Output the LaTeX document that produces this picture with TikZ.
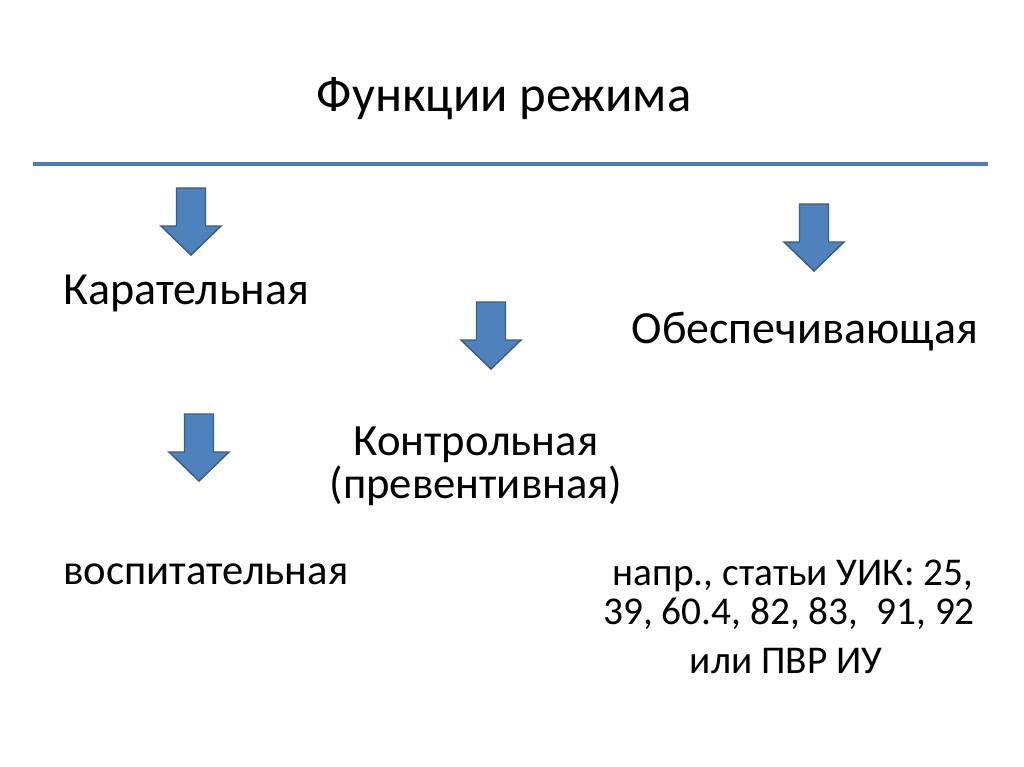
\documentclass[tikz,border=0pt]{standalone}
\usepackage{fontspec}
\setmainfont{Carlito}

\definecolor{arrowfill}{HTML}{4F81BD}
\definecolor{arrowline}{HTML}{385D8A}
\definecolor{rulecol}{HTML}{4A7EBB}

\tikzset{
    txt/.style={inner sep=0pt, font=\fontsize{#1}{#1}\selectfont},
    txt/.default=34.5,
    rule/.style={draw=rulecol, line width=2.4pt},
    pics/downarrow/.style={code={
        \draw[fill=arrowfill, draw=arrowline, line width=1.1pt, line join=miter]
            (-14.5,0) -- (14.5,0) -- (14.5,38) -- (30,38) -- (0,67)
            -- (-30,38) -- (-14.5,38) -- cycle;}}
}

\begin{document}
\begin{tikzpicture}[x=0.75pt, y=-0.75pt]
    \useasboundingbox (0,0) rectangle (1024,767);

    \node[txt=38, anchor=base] (title) at (504,112) {Функции режима};
    \coordinate (ruleL) at (33,164);
    \coordinate (ruleR) at (988,164);
    \draw[rule] (ruleL) -- (ruleR);

    % arrows
    \pic at (191,188) {downarrow};
    \pic at (814,204) {downarrow};
    \pic at (491,302) {downarrow};
    \pic at (199,414) {downarrow};

    \node[txt, anchor=base west] (punit) at (63,304) {Карательная};
    \node[txt, anchor=base east] (supp) at (978,343) {Обеспечивающая};
    \node[txt=33.5, anchor=base] (ctrl) at (476,455) {Контрольная};
    \node[txt=33.5, anchor=base] (prev) at (476,498) {(превентивная)};
    \node[txt=32, anchor=base west] (educ) at (63,584) {воспитательная};

    \node[txt=29.5, anchor=base] (ex1) at (793,585) {напр., статьи УИК: 25,};
    \node[txt=29.5, anchor=base] (ex2) at (789,624) {39, 60.4, 82, 83,\ \ 91, 92};
    \node[txt=29.5, anchor=base] (ex3) at (786,673) {или ПВР ИУ};
\end{tikzpicture}
\end{document}
